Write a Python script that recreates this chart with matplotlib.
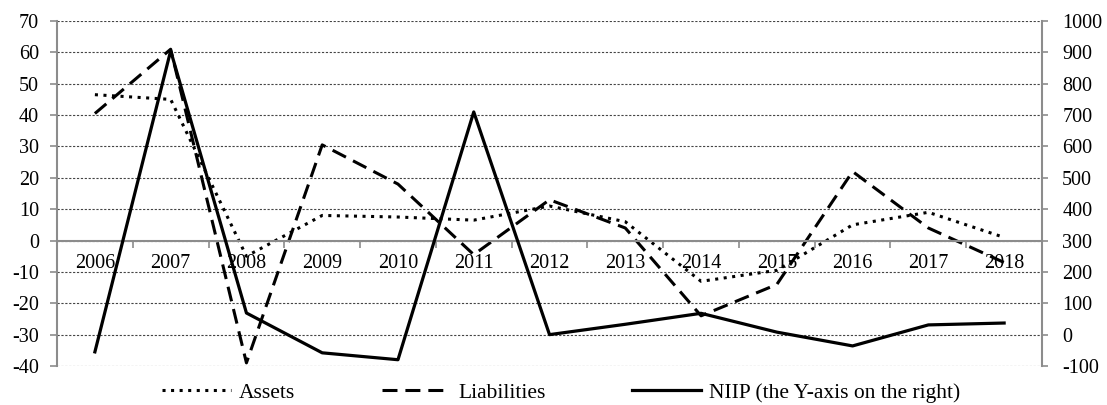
import numpy as np
import matplotlib
matplotlib.use("Agg")
import matplotlib.pyplot as plt

# --------------------------------------------------
# Data
# --------------------------------------------------

years = ["2006", "2007", "2008", "2009", "2010", "2011", "2012",
         "2013", "2014", "2015", "2016", "2017", "2018"]

assets = [46.5, 45, -5, 8, 7.5, 6.5, 11, 6, -13, -9.5, 5, 9, 1]
liabilities = [40.5, 61, -39, 30.5, 18, -4.5, 13, 4, -24, -14, 22, 4, -7]
niip = [-55, 905, 69, -58, -80, 710, 0, 33, 68, 8, -36, 31, 37]

left_ticks = list(range(-40, 71, 10))
right_ticks = list(range(-100, 1001, 100))

# --------------------------------------------------
# Style
# --------------------------------------------------

plt.rcParams["font.family"] = ["Liberation Serif", "DejaVu Serif"]
plt.rcParams["font.size"] = 14.5
plt.rcParams["axes.unicode_minus"] = False

axis_grey = "#8c8c8c"

fig = plt.figure(figsize=(11.07, 4.05), dpi=100)
ax = fig.add_axes([0.0515, 0.0963, 0.8898, 0.8519])
ax2 = ax.twinx()

x = np.arange(len(years))

# --------------------------------------------------
# Lines
# --------------------------------------------------

l1, = ax.plot(x, assets, color="black", lw=2.2,
              linestyle=(0, (1, 1.8)), label="Assets")
l2, = ax.plot(x, liabilities, color="black", lw=2.2,
              linestyle=(0, (4.9, 2.6)), label="Liabilities")
l3, = ax2.plot(x, niip, color="black", lw=2.3,
               label="NIIP (the Y-axis on the right)")

# --------------------------------------------------
# Axes
# --------------------------------------------------

ax.set_xlim(-0.5, len(years) - 0.5)
ax.set_ylim(-40, 70)
ax2.set_ylim(-100, 1000)

ax.set_yticks(left_ticks)
ax2.set_yticks(right_ticks)

ax.yaxis.grid(True, linestyle=(0, (2, 1.5)), color="#444444", lw=0.8)
ax.set_axisbelow(True)

# category axis sits on the zero line
ax.spines["bottom"].set_position(("data", 0))
ax.set_xticks(np.arange(-0.5, len(years), 1.0))
ax.set_xticklabels([])
ax.set_xticks(x, minor=True)
ax.set_xticklabels(years, minor=True)
ax.tick_params(axis="x", which="major", length=5, width=1.2, color=axis_grey)
ax.tick_params(axis="x", which="minor", length=0, pad=10)

for a in (ax, ax2):
    a.spines["top"].set_visible(False)
    for side in ("left", "right", "bottom"):
        a.spines[side].set_color(axis_grey)
        a.spines[side].set_linewidth(1.5)
ax2.spines["bottom"].set_visible(False)
ax.spines["right"].set_visible(False)
ax2.spines["left"].set_visible(False)

ax.tick_params(axis="y", length=5, width=1.2, color=axis_grey, pad=8)
ax2.tick_params(axis="y", length=4.5, width=1.2, color=axis_grey, pad=10)

# --------------------------------------------------
# Legend
# --------------------------------------------------

fig.legend(handles=[l1, l2, l3], loc="center", bbox_to_anchor=(0.507, 0.03),
           ncol=3, frameon=False, fontsize=15.5, handlelength=3.2,
           handletextpad=0.38, columnspacing=4.0)

fig.savefig("out.png", dpi=100)
plt.close(fig)
